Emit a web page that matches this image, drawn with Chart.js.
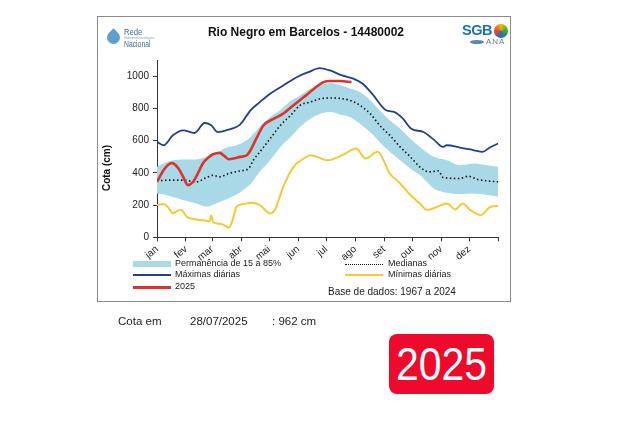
<!DOCTYPE html>
<html>
<head>
<meta charset="utf-8">
<script src="https://cdn.jsdelivr.net/npm/chart.js@4"></script>
<style>
body{margin:0;background:#fff;font-family:"Liberation Sans",Arial,sans-serif;width:640px;height:428px;position:relative;overflow:hidden}
.abs{position:absolute;white-space:nowrap}
#box{left:97px;top:16px;width:412px;height:284px;border:1px solid #8c8c8c}
#chart{position:absolute;left:97px;top:16px}
.leg{font-size:9px;color:#222}
.sw{position:absolute;height:2px}
</style>
</head>
<body>

<div id="box" class="abs"></div>
<canvas id="chart" width="413" height="285"></canvas>

<!-- logo rede -->
<div class="abs" style="left:107px;top:31px;width:13px;height:13px;background:#5d9fd4;border-radius:0 50% 50% 50%;transform:rotate(45deg)"></div>
<div class="abs" style="left:124px;top:27px;font-size:9px;color:#3b6d9e;transform:scaleX(.85);transform-origin:left">Rede</div>
<div class="abs" style="left:124px;top:36px;font-size:3.5px;color:#7fa9cf">Hidrometeorológica</div>
<div class="abs" style="left:124px;top:39px;font-size:8.5px;color:#3b6d9e;transform:scaleX(.8);transform-origin:left">Nacional</div>

<div class="abs" style="left:0;width:612px;text-align:center;top:25px;font-size:12px;font-weight:bold;color:#111">Rio Negro em Barcelos - 14480002</div>

<!-- logo sgb ana -->
<div class="abs" style="left:494px;top:24px;width:14px;height:14px;border-radius:50%;background:conic-gradient(#f4b400,#3aa64b,#1e6fc0,#e94335,#f4b400)"></div>
<div class="abs" style="left:462px;top:22px;font-size:14.5px;font-weight:bold;color:#1e6fc0;letter-spacing:-0.5px">SGB</div>
<div class="abs" style="left:470px;top:40px;width:14px;height:4px;border-radius:50%;background:#5b86b8"></div>
<div class="abs" style="left:486px;top:37px;font-size:8px;color:#6a7f99;letter-spacing:1px">ANA</div>

<div class="abs" style="left:106px;top:168px;font-size:10px;font-weight:bold;color:#111;transform:translate(-50%,-50%) rotate(-90deg)">Cota (cm)</div>

<!-- legenda -->
<div class="sw" style="left:133px;top:261px;width:38px;height:6px;background:#a9d9e6"></div>
<div class="abs leg" style="left:175px;top:258px">Permanência de 15 a 85%</div>
<div class="sw" style="left:133px;top:274px;width:38px;background:#22408f"></div>
<div class="abs leg" style="left:175px;top:269px">Máximas diárias</div>
<div class="sw" style="left:133px;top:286px;width:38px;height:2.5px;background:#e0322c"></div>
<div class="abs leg" style="left:175px;top:281px">2025</div>
<div class="sw" style="left:345px;top:264px;width:38px;height:0;border-top:1.5px dotted #111"></div>
<div class="abs leg" style="left:388px;top:258px">Medianas</div>
<div class="sw" style="left:345px;top:274px;width:38px;background:#f4c935"></div>
<div class="abs leg" style="left:388px;top:269px">Mínimas diárias</div>
<div class="abs" style="left:328px;top:286px;font-size:10px;color:#222">Base de dados: 1967 a 2024</div>

<div class="abs" style="left:118px;top:315px;font-size:11.5px;color:#222">Cota em</div>
<div class="abs" style="left:190px;top:315px;font-size:11.5px;color:#222">28/07/2025</div>
<div class="abs" style="left:272px;top:315px;font-size:11.5px;color:#222">: 962 cm</div>

<div class="abs" style="left:389px;top:334px;width:105px;height:60px;background:#ef0a2c;border-radius:8px"></div>
<div class="abs" style="left:389px;top:334px;width:105px;height:60px;line-height:60px;text-align:center;font-size:46px;color:#fff;transform:scaleX(.89)">2025</div>

<script>
const monthStarts=[0,31,59,90,120,151,181,212,243,273,304,334,365];
const monthNames=["jan","fev","mar","abr","mai","jun","jul","ago","set","out","nov","dez"];
const yTicks=[0,200,400,600,800,1000];

// faixa de permanencia 15-85%
const bandDays=[0,7,17,28,42,53,63,74,85,96,100,110,121,132,143,153,164,175,185,198,206,217,228,238,249,260,271,281,296,310,324,339,353,365];
const bandUpper=[437,458,478,483,483,499,520,557,571,602,622,684,746,790,845,880,922,945,958,940,925,901,850,788,726,674,612,561,499,478,447,458,447,437];
const bandLower=[272,265,250,231,210,190,210,235,265,310,330,406,478,561,622,684,736,767,777,757,747,705,653,592,530,478,427,386,303,276,268,272,262,251];

const medDays=[0,14,28,42,53,60,67,77,89,98,103,110,121,132,143,153,164,175,187,198,206,217,228,238,249,260,271,281,291,301,306,324,333,343,353,365];
const medVals=[350,355,355,344,371,385,375,396,412,427,478,530,612,695,757,819,839,860,864,860,850,819,767,695,633,561,499,437,406,412,371,365,379,359,350,344];

const maxDays=[0,7,17,28,40,51,58,65,74,89,100,110,121,135,151,162,174,185,198,210,220,230,245,254,263,272,285,296,306,310,324,339,348,356,365];
const maxVals=[592,571,633,664,647,709,695,653,664,701,788,839,891,942,998,1025,1050,1035,1004,984,953,891,788,777,736,674,653,606,561,571,557,540,530,557,582];

const minDays=[0,7,12,17,22,26,32,42,53,56,58,60,63,70,77,81,85,92,101,110,121,126,135,146,157,164,171,182,198,213,223,236,249,260,271,281,289,300,310,319,327,335,346,357,365];
const minVals=[200,206,185,149,165,169,127,111,103,100,135,95,87,80,60,110,190,206,214,200,148,169,313,437,489,509,499,478,509,551,489,530,396,334,262,210,169,190,210,173,210,169,138,190,194];

const y2025Days=[0,7,12,16,23,28,33,38,44,49,55,60,67,72,77,83,89,96,100,107,114,125,135,146,157,168,178,185,196,208];
const y2025Vals=[344,416,450,460,427,375,324,340,400,458,495,515,524,505,484,490,499,509,540,622,695,736,767,819,870,922,963,970,970,962];

const pts=(d,v)=>d.map((x,i)=>({x,y:v[i]}));

const line=(data,color,width,order)=>({
data,borderColor:color,borderWidth:width,pointRadius:0,fill:false,
cubicInterpolationMode:"monotone",order
});

new Chart(document.getElementById("chart"),{
type:"line",
data:{datasets:[
line(pts(y2025Days,y2025Vals),"#e0322c",2.6,0),
{...line(pts(medDays,medVals),"#111",1.6,1),borderDash:[1.5,2.5]},
line(pts(maxDays,maxVals),"#22408f",1.8,2),
line(pts(minDays,minVals),"#f4c935",2,3),
{...line(pts(bandDays,bandUpper),"rgba(0,0,0,0)",0,4),fill:"+1",backgroundColor:"#a9d9e6"},
line(pts(bandDays,bandLower),"rgba(0,0,0,0)",0,5)
]},
options:{
responsive:false,
animation:false,
layout:{padding:{left:0,right:11.7,top:44,bottom:33.7}},
plugins:{legend:{display:false},tooltip:{enabled:false}},
scales:{
x:{
type:"linear",min:0,max:365,
afterBuildTicks:s=>{s.ticks=monthStarts.map(v=>({value:v}))},
afterFit:s=>{s.height=30},
grid:{drawOnChartArea:false,tickLength:4,color:"#333"},
border:{color:"#333"},
ticks:{autoSkip:false,minRotation:40,maxRotation:40,padding:2,color:"#222",
font:{family:"Liberation Sans",size:10},
callback:v=>monthNames[monthStarts.indexOf(v)]||""}
},
y:{
min:0,max:1100,
afterBuildTicks:s=>{s.ticks=yTicks.map(v=>({value:v}))},
afterFit:s=>{s.width=60},
grid:{drawOnChartArea:false,tickLength:4,color:"#333"},
border:{color:"#333"},
ticks:{padding:4,color:"#222",font:{family:"Liberation Sans",size:10},callback:v=>String(v)}
}
}
}
});
</script>
</body>
</html>
